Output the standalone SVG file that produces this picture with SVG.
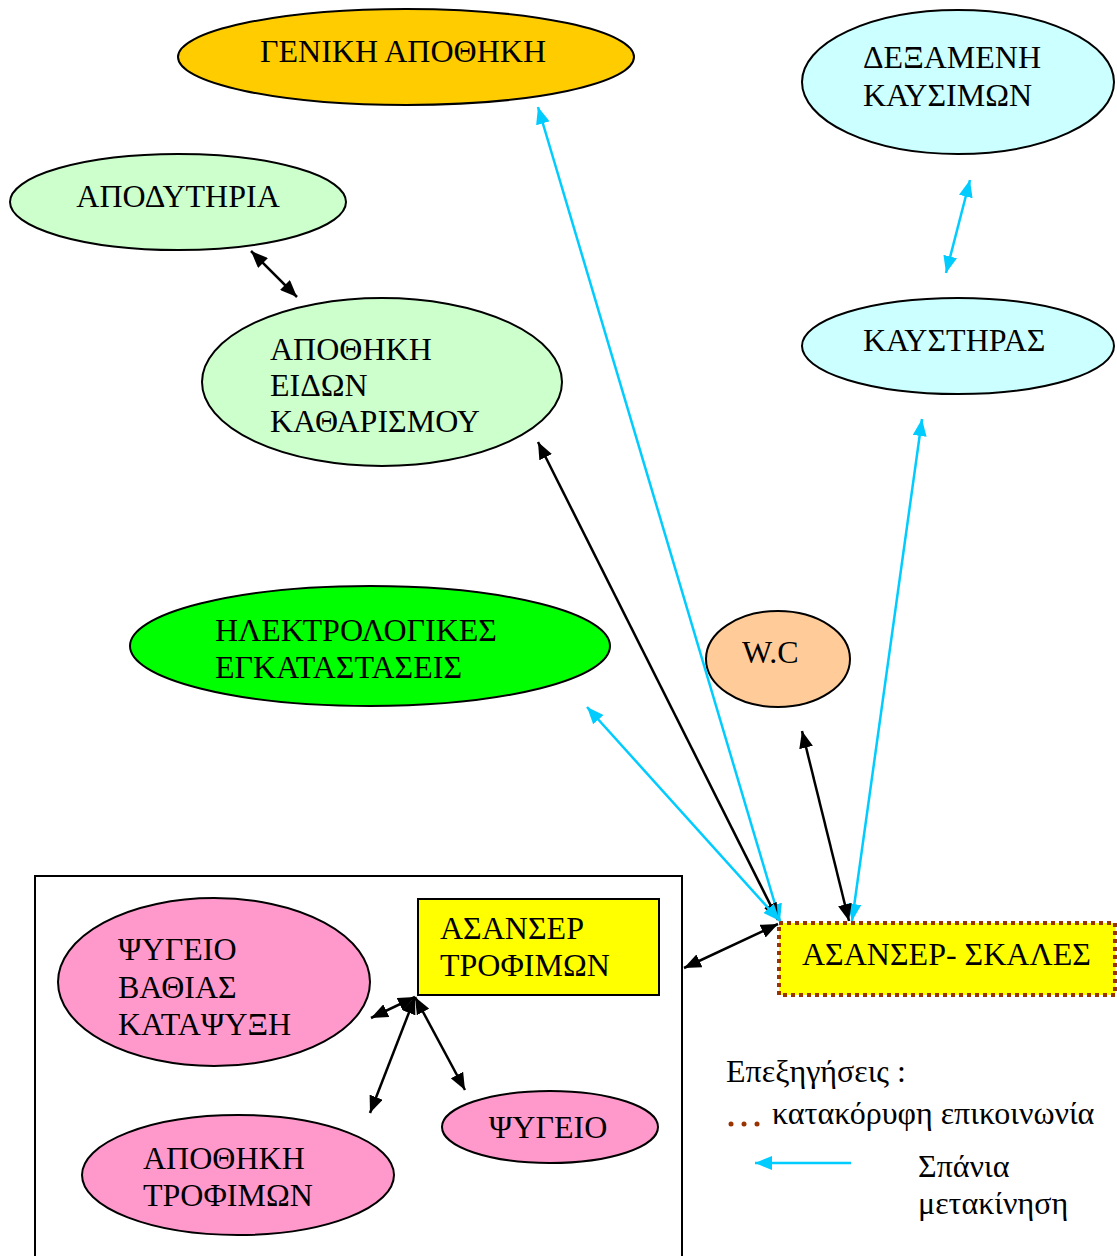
<svg xmlns="http://www.w3.org/2000/svg" width="1117" height="1256" viewBox="0 0 1117 1256">
<style>
text{font-family:"Liberation Serif","Times New Roman",serif;font-size:32px;fill:#000}
.n{stroke:#000;stroke-width:2}
.k{stroke:#000;stroke-width:2.5;fill:none}
.c{stroke:#00CCFF;stroke-width:2.5;fill:none}
</style>
<defs>
<marker id="ak" markerUnits="userSpaceOnUse" markerWidth="18" markerHeight="14" refX="17" refY="7" orient="auto-start-reverse"><path d="M0,0 L17,7 L0,14 Z" fill="#000"/></marker>
<marker id="ac" markerUnits="userSpaceOnUse" markerWidth="18" markerHeight="14" refX="17" refY="7" orient="auto-start-reverse"><path d="M0,0 L17,7 L0,14 Z" fill="#00CCFF"/></marker>
</defs>
<rect width="1117" height="1256" fill="#fff"/>
<g id="box"><rect x="35" y="876" width="647" height="400" fill="none" stroke="#000" stroke-width="2"/></g>
<g id="geniki"><ellipse class="n" cx="406" cy="57" rx="228" ry="48" fill="#FFCC00"/><text x="403" y="62" text-anchor="middle">ΓΕΝΙΚΗ ΑΠΟΘΗΚΗ</text></g>
<g id="dexameni"><ellipse class="n" cx="958" cy="82" rx="156" ry="72" fill="#CCFFFF"/><text x="863" y="68">ΔΕΞΑΜΕΝΗ</text><text x="863" y="106">ΚΑΥΣΙΜΩΝ</text></g>
<g id="apodytiria"><ellipse class="n" cx="178" cy="202" rx="168" ry="48" fill="#CCFFCC"/><text x="178" y="207" text-anchor="middle">ΑΠΟΔΥΤΗΡΙΑ</text></g>
<g id="kaystiras"><ellipse class="n" cx="958" cy="346" rx="156" ry="48" fill="#CCFFFF"/><text x="863" y="351">ΚΑΥΣΤΗΡΑΣ</text></g>
<g id="katharismou"><ellipse class="n" cx="382" cy="382" rx="180" ry="84" fill="#CCFFCC"/><text x="270" y="360">ΑΠΟΘΗΚΗ</text><text x="270" y="396">ΕΙΔΩΝ</text><text x="270" y="432">ΚΑΘΑΡΙΣΜΟΥ</text></g>
<g id="ilektrologikes"><ellipse class="n" cx="370" cy="646" rx="240" ry="60" fill="#00FF00"/><text x="215" y="641">ΗΛΕΚΤΡΟΛΟΓΙΚΕΣ</text><text x="215" y="678">ΕΓΚΑΤΑΣΤΑΣΕΙΣ</text></g>
<g id="wc"><ellipse class="n" cx="778" cy="659" rx="72" ry="48" fill="#FFCC99"/><text x="742" y="663">W.C</text></g>
<g id="asanser-trofimon"><rect class="n" x="418" y="899" width="241" height="96" fill="#FFFF00"/><text x="440" y="939">ΑΣΑΝΣΕΡ</text><text x="440" y="976">ΤΡΟΦΙΜΩΝ</text></g>
<g id="psygeio-vathias"><ellipse class="n" cx="214" cy="982" rx="156" ry="84" fill="#FF99CC"/><text x="118" y="960">ΨΥΓΕΙΟ</text><text x="118" y="998">ΒΑΘΙΑΣ</text><text x="118" y="1035">ΚΑΤΑΨΥΞΗ</text></g>
<g id="apothiki-trofimon"><ellipse class="n" cx="238" cy="1175" rx="156" ry="60" fill="#FF99CC"/><text x="143" y="1169">ΑΠΟΘΗΚΗ</text><text x="143" y="1206">ΤΡΟΦΙΜΩΝ</text></g>
<g id="psygeio"><ellipse class="n" cx="550" cy="1127" rx="108" ry="36" fill="#FF99CC"/><text x="548" y="1138" text-anchor="middle">ΨΥΓΕΙΟ</text></g>
<g id="asanser-skales"><rect x="779" y="923" width="336" height="72" fill="#FFFF00" stroke="#993300" stroke-width="4" stroke-dasharray="4 4"/><text x="802" y="965">ΑΣΑΝΣΕΡ- ΣΚΑΛΕΣ</text></g>
<g id="connectors">
<line class="c" x1="780" y1="921" x2="538" y2="107" marker-end="url(#ac)" marker-start="url(#ac)"/>
<line class="k" x1="778" y1="920" x2="538" y2="442" marker-end="url(#ak)" marker-start="url(#ak)"/>
<line class="c" x1="780" y1="921" x2="587" y2="707" marker-end="url(#ac)" marker-start="url(#ac)"/>
<line class="c" x1="852" y1="921" x2="922" y2="419" marker-end="url(#ac)" marker-start="url(#ac)"/>
<line class="k" x1="849" y1="921" x2="802" y2="731" marker-end="url(#ak)" marker-start="url(#ak)"/>
<line class="c" x1="946" y1="273" x2="970" y2="180" marker-end="url(#ac)" marker-start="url(#ac)"/>
<line class="k" x1="297" y1="297" x2="251" y2="251" marker-end="url(#ak)" marker-start="url(#ak)"/>
<line class="k" x1="778" y1="924" x2="684" y2="968" marker-end="url(#ak)" marker-start="url(#ak)"/>
<line class="k" x1="415" y1="997" x2="371" y2="1018" marker-end="url(#ak)" marker-start="url(#ak)"/>
<line class="k" x1="415" y1="997" x2="370" y2="1113" marker-end="url(#ak)" marker-start="url(#ak)"/>
<line class="k" x1="415" y1="997" x2="465" y2="1090" marker-end="url(#ak)" marker-start="url(#ak)"/>
</g>
<g id="legend">
<text x="726" y="1082">Επεξηγήσεις :</text>
<g fill="#993300"><circle cx="731" cy="1124" r="2.5"/><circle cx="744" cy="1124" r="2.5"/><circle cx="757" cy="1124" r="2.5"/></g>
<text x="772" y="1124">κατακόρυφη επικοινωνία</text>
<line class="c" x1="851" y1="1163" x2="755" y2="1163" marker-end="url(#ac)"/>
<text x="918" y="1177">Σπάνια</text>
<text x="918" y="1214">μετακίνηση</text>
</g>
</svg>
